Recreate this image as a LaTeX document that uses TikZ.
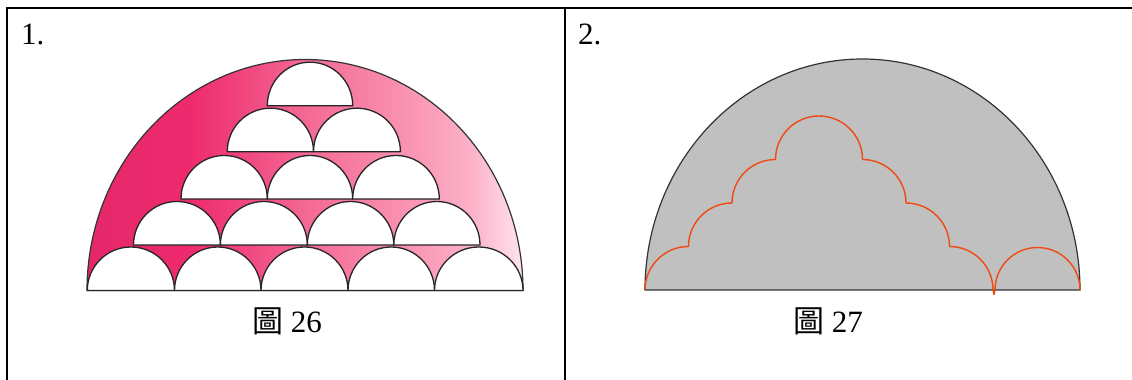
\documentclass[tikz,border=0pt]{standalone}
\usepackage{fontspec}
\setmainfont{Liberation Serif}
\newfontfamily\cjk{Noto Sans CJK TC}
\definecolor{pkA}{HTML}{E4286A}
\definecolor{pkB}{HTML}{EE2A6E}
\definecolor{pkC}{HTML}{F14A80}
\definecolor{pkD}{HTML}{F46894}
\definecolor{pkE}{HTML}{F990B0}
\definecolor{pkF}{HTML}{FCB0C7}
\definecolor{pkG}{HTML}{FFE4EE}
\definecolor{shapegray}{HTML}{C0C0C0}
\definecolor{outl}{HTML}{333333}
\definecolor{orng}{HTML}{EE4A12}
\pgfdeclarehorizontalshading{pinkgrad}{100bp}{color(0bp)=(pkA); color(25bp)=(pkA); color(36.8bp)=(pkB); color(43.7bp)=(pkC); color(50bp)=(pkD); color(60.9bp)=(pkE); color(68.9bp)=(pkF); color(75bp)=(pkG); color(100bp)=(pkG)}
\tikzset{
  border/.style={line width=2pt, black},
  bigshape/.style={draw=outl, line width=1.2pt},
  semi/.style={fill=white, draw=black!85, line width=1.3pt, line join=round},
  orangeline/.style={draw=orng, line width=1.4pt, line join=round},
  lbl/.style={inner sep=0pt, font=\fontsize{31}{36}\selectfont}
}
\begin{document}
\begin{tikzpicture}[x=1pt,y=1pt]
\useasboundingbox (0,0) rectangle (1132,380);
% table lines
\coordinate (tl) at (7,372);
\coordinate (bl) at (7,0);
\coordinate (tr) at (1132,372);
\coordinate (dt) at (565,372);
\coordinate (db) at (565,0);
\draw[border] (bl) -- (tl) -- (tr);
\draw[border] (dt) -- (db);
% figure 1
\shade[shading=pinkgrad, bigshape] (87,89.5) arc[start angle=180,end angle=0,x radius=218,y radius=231] -- cycle;
\foreach \a/\c/\b in {87.3/174.5/89.5, 174.5/261/89.5, 261/348/89.5, 348/434.5/89.5, 434.5/523/89.5,
  133.5/220.4/135, 220.4/307.3/135, 307.3/393.8/135, 393.8/480/135,
  181/267.3/181, 267.3/352.7/181, 352.7/439.3/181,
  227.3/313.5/228.3, 313.5/400.4/228.3,
  267.3/352.7/274.3}{
  \filldraw[semi] (\a,\b) arc[start angle=180,end angle=0,x radius={(\c-\a)/2},y radius=43.5] -- cycle;
}
% figure 2
\filldraw[bigshape, fill=shapegray] (645,90) arc[start angle=180,end angle=0,x radius=217.5,y radius=231] -- cycle;
\draw[orangeline] (645,90)
  arc[start angle=180,end angle=90,radius=43.5]
  arc[start angle=180,end angle=90,radius=43.5]
  arc[start angle=180,end angle=90,radius=43.5]
  arc[start angle=180,end angle=0,radius=43.5]
  arc[start angle=90,end angle=0,radius=43.5]
  arc[start angle=90,end angle=0,radius=43.5]
  arc[start angle=90,end angle=0,radius=43.5]
  -- (994,85.5) -- (995,90)
  arc[start angle=180,end angle=0,radius=42.5];
% labels
\node[lbl, anchor=base west] (n1) at (21,335) {1.};
\node[lbl, anchor=base west] (n2) at (578,335) {2.};
\node[lbl, anchor=base] (c26) at (287,47) {{\cjk 圖} 26};
\node[lbl, anchor=base] (c27) at (828,47) {{\cjk 圖} 27};
\end{tikzpicture}
\end{document}
